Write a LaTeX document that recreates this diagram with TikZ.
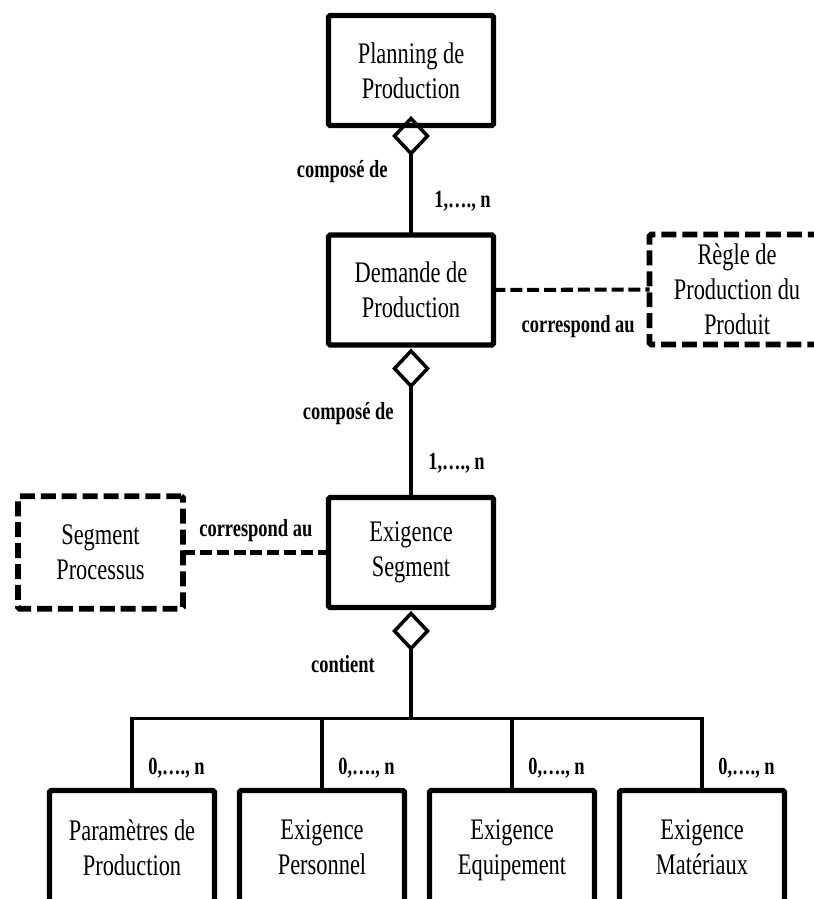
\documentclass[tikz,border=0pt]{standalone}
\usepackage{fontspec}
\setmainfont{Liberation Serif}[FakeStretch=0.75]
\usetikzlibrary{shapes.geometric}

\begin{document}
\begin{tikzpicture}[
    box/.style={draw, line width=3.1pt, rounded corners=1pt, minimum width=3.3cm, minimum height=2.2cm,
        align=center, inner sep=0pt, outer sep=0pt, font=\fontsize{17}{20}\selectfont},
    refbox/.style={box, line width=3.4pt, dash pattern=on 8.5pt off 3.4pt},
    agg/.style={draw, diamond, line width=2pt, inner sep=0pt, outer sep=0pt, minimum width=0.66cm, minimum height=0.7cm},
    conn/.style={line width=2pt},
    refline/.style={line width=2.3pt, dash pattern=on 6.8pt off 2.8pt},
    lbl/.style={inner sep=0pt, font=\fontsize{14}{16}\selectfont\bfseries}
]
\useasboundingbox (0,0) rectangle (16.28,17.98);

\node[box] (plan) at (8.22,16.57) {Planning de\\Production};
\node[box] (dem) at (8.22,12.18) {Demande de\\Production};
\node[box] (exig) at (8.22,6.93) {Exigence\\Segment};
\node[refbox, minimum width=3.5cm] (regle) at (14.74,12.19) {Règle de\\Production du\\Produit};
\node[refbox, minimum height=2.25cm] (seg) at (2.01,6.93) {Segment\\Processus};

\foreach \name/\x/\txt in {par/2.64/{Paramètres de\\Production\vphantom{p}}, pers/6.44/{Exigence\\Personnel\vphantom{p}},
    equip/10.24/{Exigence\\Equipement}, mat/14.04/{Exigence\\Matériaux\vphantom{p}}}
    \node[box, minimum height=2.4cm] (\name) at (\x,0.97) {\txt};

% agregations
\node[agg] (d1) at ([yshift=-0.21cm]plan.south) {};
\draw[conn] (d1.south) -- (dem.north);
\node[lbl, anchor=base east] (comp1) at (7.76,14.42) {composé de};
\node[lbl, anchor=base west] (card1) at (8.68,13.82) {1,…., n};

\node[agg] (d2) at ([yshift=-0.47cm]dem.south) {};
\draw[conn] (d2.south) -- (exig.north);
\node[lbl, anchor=base east] (comp2) at (7.88,9.58) {composé de};
\node[lbl, anchor=base west] (card2) at (8.56,8.58) {1,…., n};

\node[agg] (d3) at ([yshift=-0.47cm]exig.south) {};
\node[lbl, anchor=base east] (cont) at (7.5,4.52) {contient};
\coordinate (bus) at ([yshift=-1.4cm]d3.south);
\draw[conn] (d3.south) -- (bus);
\foreach \name in {par,pers,equip,mat}{
    \draw[conn] (bus) -| (\name.north);
    \node[lbl, anchor=base west] (n\name) at ([xshift=0.32cm, yshift=0.31cm]\name.north) {0,…., n};
}

% correspondances
\draw[refline] (dem.east) -- (regle.west);
\node[lbl, anchor=base east] (corr1) at (12.7,11.32) {correspond au};
\draw[refline] (seg.east) -- (exig.west);
\node[lbl, anchor=base west] (corr2) at (3.98,7.24) {correspond au};
\end{tikzpicture}
\end{document}
